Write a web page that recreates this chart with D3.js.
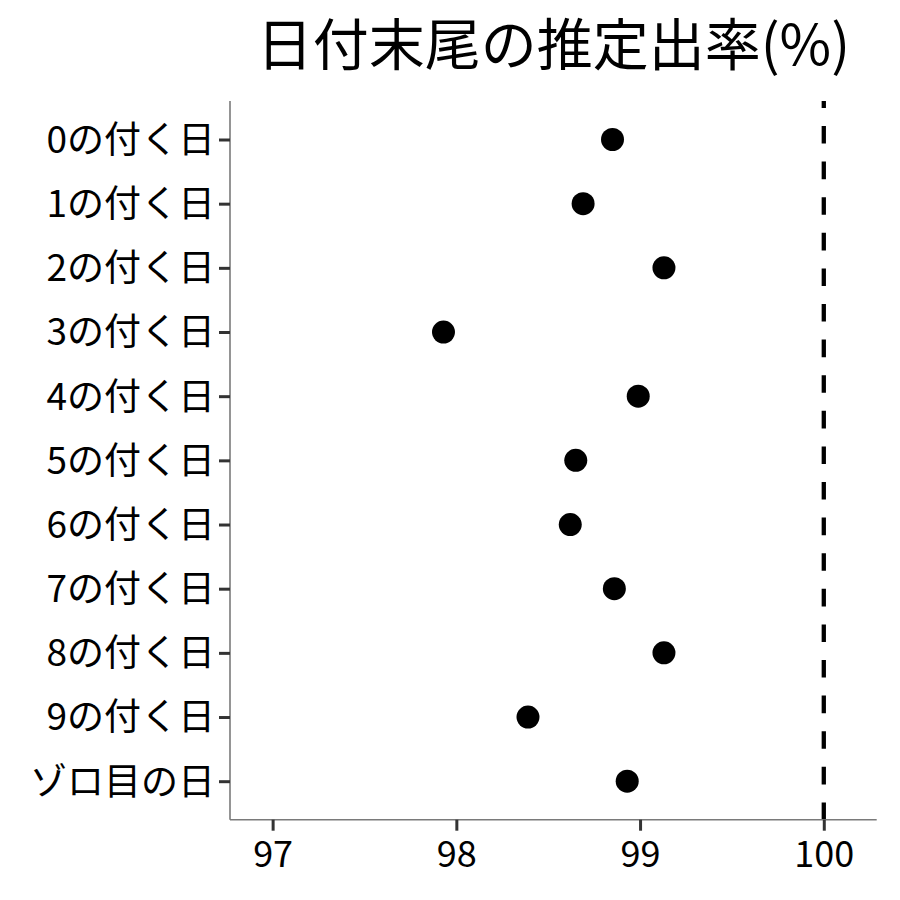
<!DOCTYPE html>
<html>
<head>
<meta charset="utf-8">
<script src="https://cdn.jsdelivr.net/npm/d3@7"></script>
<style>
  html, body { margin: 0; padding: 0; background: #fff; }
  svg { display: block; font-family: "Noto Sans CJK JP", "Noto Sans", sans-serif; }
</style>
</head>
<body>
<svg id="chart" width="900" height="900"></svg>
<script>
const categories = ["0の付く日","1の付く日","2の付く日","3の付く日","4の付く日","5の付く日","6の付く日","7の付く日","8の付く日","9の付く日","ゾロ目の日"];
const values = [98.85, 98.69, 99.13, 97.93, 98.99, 98.65, 98.62, 98.86, 99.13, 98.39, 98.93];
const xTicks = [97, 98, 99, 100];
const refValue = 100;
const titleText = "日付末尾の推定出率(%)";

(function () {
const svg = d3.select("#chart");
const pL = 230, pR = 876.7, pT = 101, pB = 819.7;

const x = d3.scaleLinear().domain([96.768, 100.288]).range([pL, pR]);
const yPos = d3.scalePoint().domain(categories).range([pT, pB]).padding(0.6);

// reference dashed line
svg.append("line")
  .attr("x1", x(refValue)).attr("x2", x(refValue))
  .attr("y1", pT).attr("y2", pB)
  .attr("stroke", "#000").attr("stroke-width", 4.3)
  .attr("stroke-dasharray", "17.6,18")
  .attr("stroke-dashoffset", 10.6);

// axes
const xAxis = svg.append("g").attr("transform", `translate(0,${pB})`)
  .call(d3.axisBottom(x).tickValues(xTicks).tickSize(11).tickPadding(11).tickFormat(d3.format("d")));
xAxis.select(".domain").attr("stroke", "#7a7a7a").attr("stroke-width", 1.6).attr("d", `M${pL},0H${pR}`);
xAxis.selectAll(".tick line").attr("stroke", "#333").attr("stroke-width", 3);
xAxis.selectAll(".tick text").attr("fill", "#000").attr("font-size", 36)
  .attr("font-family", '"Noto Sans CJK JP", sans-serif').attr("dy", "0.71em");

const yAxis = svg.append("g").attr("transform", `translate(${pL},0)`)
  .call(d3.axisLeft(yPos).tickSize(11).tickPadding(4));
yAxis.select(".domain").attr("stroke", "#7a7a7a").attr("stroke-width", 1.6).attr("d", `M0,${pT}V${pB}`);
yAxis.selectAll(".tick line").attr("stroke", "#333").attr("stroke-width", 3);
yAxis.selectAll(".tick text").attr("fill", "#000").attr("font-size", 37)
  .attr("font-family", '"Noto Sans CJK JP", sans-serif').attr("dy", "0.35em");

// points
svg.append("g").selectAll("circle").data(categories).join("circle")
  .attr("cx", (d, i) => x(values[i]))
  .attr("cy", d => yPos(d))
  .attr("r", 11.5)
  .attr("fill", "#000");

// title
svg.append("text")
  .attr("x", (pL + pR) / 2).attr("y", 65)
  .attr("text-anchor", "middle")
  .attr("font-size", 56)
  .attr("fill", "#000")
  .text(titleText);
})();
</script>
</body>
</html>
